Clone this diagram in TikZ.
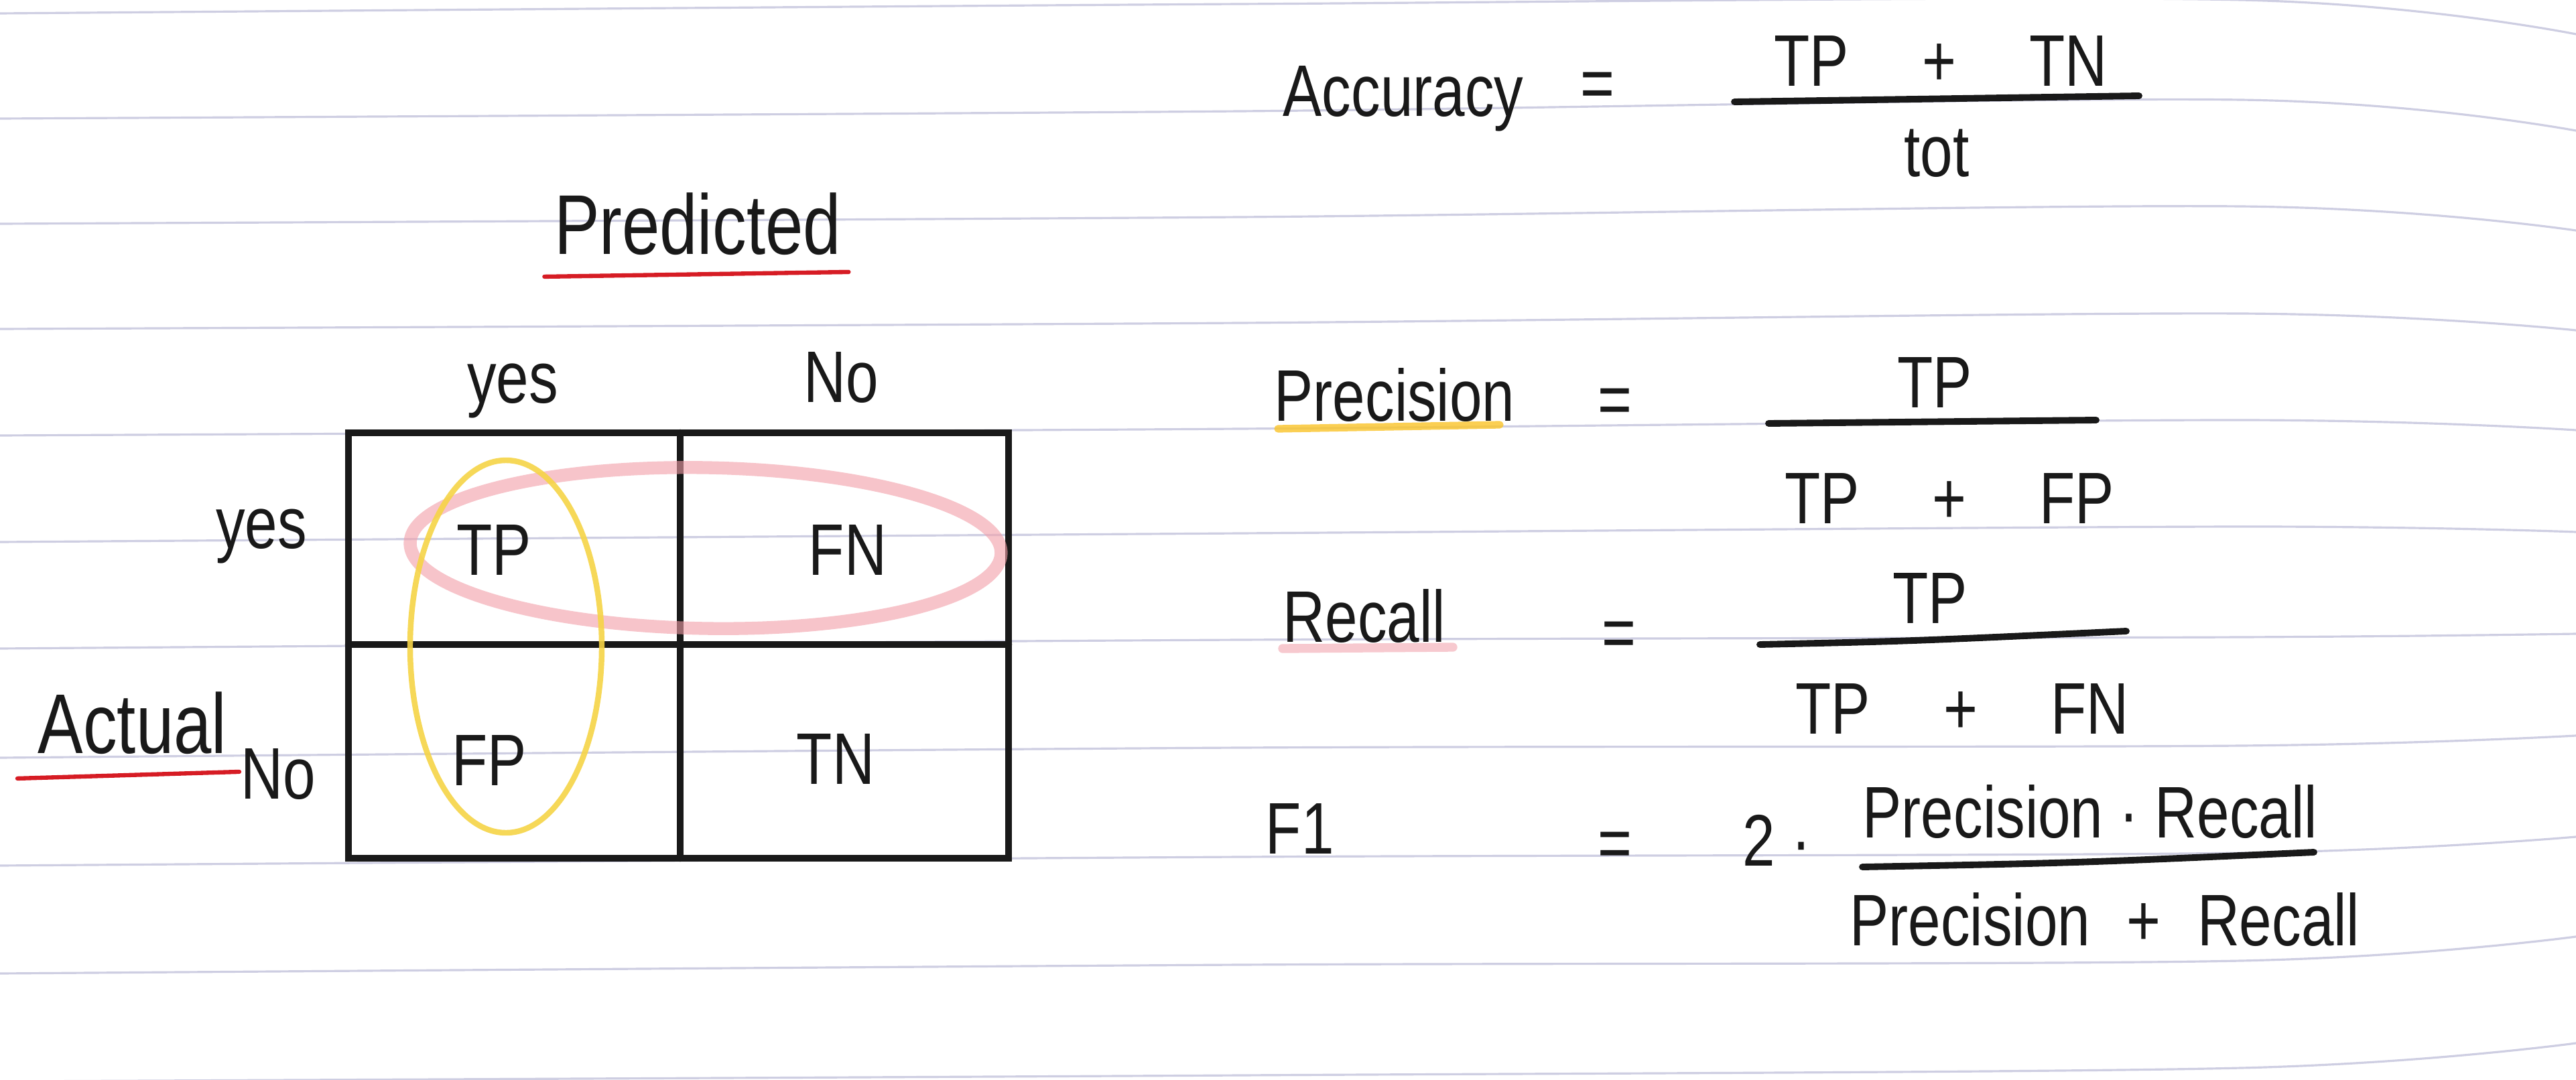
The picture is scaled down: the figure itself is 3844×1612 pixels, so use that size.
\documentclass[tikz,border=0pt]{standalone}
\usepackage{fontspec}
\setmainfont{Liberation Sans}[FakeStretch=0.8]
\usetikzlibrary{positioning}

\definecolor{ink}{RGB}{25,25,25}
\definecolor{ruleline}{RGB}{206,206,226}
\definecolor{redpen}{RGB}{214,28,36}
\definecolor{yellowpen}{RGB}{246,212,70}
\definecolor{pinkpen}{RGB}{242,158,168}
\definecolor{marker}{RGB}{250,196,40}

\begin{document}
\begin{tikzpicture}[x = 0.01cm, y = -0.01cm,
	hand/.style = {font = \fontsize{31}{36}\selectfont, text = ink, inner sep = 0pt},
	big/.style = {font = \fontsize{36}{42}\selectfont, text = ink, inner sep = 0pt},
	grid/.style = {draw = ink, line width = 3pt, line cap = round},
	bar/.style = {draw = ink, line width = 2.8pt, line cap = round},
	rule/.style = {draw = ruleline, line width = 0.9pt}]
	\useasboundingbox[fill = white] (0,0) rectangle (3844,1612);

	% notebook lines
	\foreach \a/\b/\c/\d in {20/6/0/51, 177/166/149/195, 334/324/308/344, 491/482/468/493,
			650/640/627/642, 809/796/786/794, 968/955/951/946, 1131/1116/1113/1098,
			1292/1279/1273/1249, 1453/1440/1434/1398, 1614/1605/1594/1557}
		\draw[rule] plot[smooth] coordinates {(0,\a) (1850,\b) (3344,\c) (3844,\d)};

	% confusion matrix
	\coordinate (NW) at (520,646);
	\coordinate (SE) at (1505,1281);
	\coordinate (C) at (1015,962);
	\draw[grid] (NW) rectangle (SE);
	\draw[grid] (NW -| C) -- (SE -| C);
	\draw[grid] (NW |- C) -- (SE |- C);

	\draw[pinkpen, opacity = 0.6, line width = 5.5pt, rotate around = {-1:(1053,818)}]
		(1053,818) ellipse [x radius = 441, y radius = 120];
	\draw[yellowpen, opacity = 0.9, line width = 2.4pt]
		(755,965) ellipse [x radius = 143, y radius = 278];

	\node[big, anchor = base] (pred) at (1041,379) {Predicted};
	\draw[redpen, line width = 1.8pt, line cap = round] (pred.south west) ++(-14,32) -- ++(454,-7);
	\node[hand, anchor = base] (colyes) at (765,601) {yes};
	\node[hand, anchor = base] (colno) at (1255,600) {No};
	\node[hand, anchor = base] (rowyes) at (390,818) {yes};
	\node[hand, anchor = base] (rowno) at (415,1192) {No};
	\node[big, anchor = base west] (act) at (56,1124) {Actual};
	\draw[redpen, line width = 1.8pt, line cap = round] (act.south west) ++(-30,36) -- ++(331,-10);

	\node[hand, anchor = base] (tp) at (737,858) {TP};
	\node[hand, anchor = base] (fn) at (1265,858) {FN};
	\node[hand, anchor = base] (fp) at (730,1172) {FP};
	\node[hand, anchor = base] (tn) at (1247,1170) {TN};

	% accuracy
	\node[hand, anchor = base west] (acc) at (1914,173) {Accuracy};
	\node[hand] (acceq) at (2384,135) {=};
	\node[hand, anchor = base] (accnum) at (2896,128) {TP\quad+\quad TN};
	\node[hand, anchor = base] (accden) at (2890,263) {tot};
	\draw[bar] (2588,152) -- (3192,143);

	% precision
	\node[hand, anchor = base west] (prec) at (1901,628) {Precision};
	\draw[marker, opacity = 0.8, line width = 3.2pt, line cap = round] (prec.base west) ++(6,12) -- ++(331,-6);
	\node[hand] (preceq) at (2410,607) {=};
	\node[hand, anchor = base] (precnum) at (2887,608) {TP};
	\node[hand, anchor = base] (precden) at (2909,781) {TP\quad+\quad FP};
	\draw[bar] (2639,632) -- (3128,627);

	% recall
	\node[hand, anchor = base west] (rec) at (1914,958) {Recall};
	\draw[pinkpen, opacity = 0.55, line width = 3.8pt, line cap = round] (rec.base west) ++(0,10) -- ++(254,-2);
	\node[hand] (receq) at (2416,955) {=};
	\node[hand, anchor = base] (recnum) at (2880,930) {TP};
	\node[hand, anchor = base] (recden) at (2928,1095) {TP\quad+\quad FN};
	\draw[bar] (2626,962) .. controls (2850,957) .. (3173,942);

	% f1
	\node[hand, anchor = base west] (fone) at (1888,1274) {F1};
	\node[hand] (foneeq) at (2410,1269) {=};
	\node[hand, anchor = base west] (ftwo) at (2600,1292) {2 ·};
	\node[hand, anchor = base] (fonenum) at (3119,1250) {Precision · Recall};
	\node[hand, anchor = base] (foneden) at (3141,1411) {Precision\enspace+\enspace Recall};
	\draw[bar] (2779,1294) .. controls (3100,1288) .. (3453,1272);
\end{tikzpicture}
\end{document}
